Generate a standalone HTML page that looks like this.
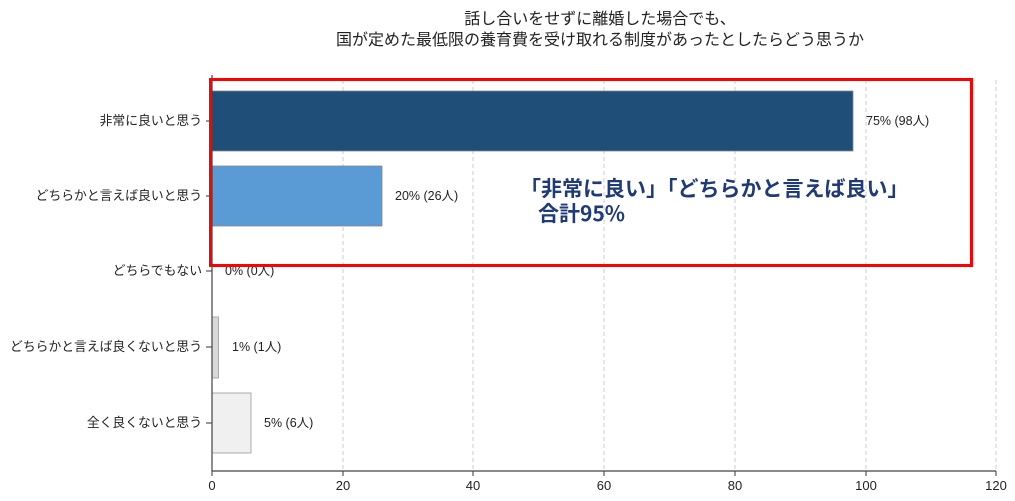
<!DOCTYPE html>
<html><head><meta charset="utf-8"><style>
html,body{margin:0;padding:0;background:#fff;}
svg{display:block;font-family:"Liberation Sans","Noto Sans CJK JP",sans-serif;}
</style></head><body>
<svg width="1015" height="501" viewBox="0 0 1015 501">
<text x="600" y="24" font-size="16" text-anchor="middle" fill="#222">話し合いをせずに離婚した場合でも、</text>
<text x="600" y="45" font-size="16" text-anchor="middle" fill="#222">国が定めた最低限の養育費を受け取れる制度があったとしたらどう思うか</text>
<g stroke="#ccc" stroke-dasharray="4,3" stroke-width="1">
<line x1="343" y1="80" x2="343" y2="471"/><line x1="473" y1="80" x2="473" y2="471"/>
<line x1="604" y1="80" x2="604" y2="471"/><line x1="735" y1="80" x2="735" y2="471"/>
<line x1="866" y1="80" x2="866" y2="471"/><line x1="996" y1="80" x2="996" y2="471"/>
</g>
<rect x="212" y="91" width="641" height="60" fill="#1f4e79" stroke="#888" stroke-width="0.8"/>
<rect x="212" y="166" width="170" height="60" fill="#5b9bd5" stroke="#888" stroke-width="0.8"/>
<rect x="212" y="317" width="6.5" height="61" fill="#d9d9d9" stroke="#999" stroke-width="0.8"/>
<rect x="212" y="393" width="39" height="60" fill="#f0f0f0" stroke="#999" stroke-width="0.8"/>
<g font-size="12.5" fill="#222">
<text x="866" y="125">75% (98人)</text>
<text x="395" y="200">20% (26人)</text>
<text x="225" y="275">0% (0人)</text>
<text x="232" y="351">1% (1人)</text>
<text x="264" y="427">5% (6人)</text>
</g>
<g font-size="12.8" fill="#222" text-anchor="end">
<text x="202" y="125">非常に良いと思う</text>
<text x="202" y="200">どちらかと言えば良いと思う</text>
<text x="202" y="275">どちらでもない</text>
<text x="202" y="351">どちらかと言えば良くないと思う</text>
<text x="202" y="427">全く良くないと思う</text>
</g>
<g stroke="#333" stroke-width="1">
<line x1="206" y1="121" x2="212" y2="121"/><line x1="206" y1="196" x2="212" y2="196"/>
<line x1="206" y1="271" x2="212" y2="271"/><line x1="206" y1="347" x2="212" y2="347"/>
<line x1="206" y1="423" x2="212" y2="423"/>
<line x1="212" y1="471" x2="212" y2="476"/><line x1="343" y1="471" x2="343" y2="476"/>
<line x1="473" y1="471" x2="473" y2="476"/><line x1="604" y1="471" x2="604" y2="476"/>
<line x1="735" y1="471" x2="735" y2="476"/><line x1="866" y1="471" x2="866" y2="476"/>
<line x1="996" y1="471" x2="996" y2="476"/>
</g>
<line x1="212" y1="75" x2="212" y2="471" stroke="#444" stroke-width="1.2"/>
<line x1="212" y1="471" x2="996" y2="471" stroke="#444" stroke-width="1.2"/>
<g font-size="13" fill="#222" text-anchor="middle">
<text x="212" y="490">0</text><text x="343" y="490">20</text><text x="473" y="490">40</text>
<text x="604" y="490">60</text><text x="735" y="490">80</text><text x="866" y="490">100</text>
<text x="996" y="490">120</text>
</g>
<rect x="210.5" y="79.5" width="761" height="186" fill="none" stroke="#f00" stroke-width="3"/>
<g font-family="'Noto Sans CJK JP',sans-serif" font-size="21" font-weight="bold" fill="#1f3a78">
<text x="520" y="196">「非常に良い」「どちらかと言えば良い」</text>
<text x="538" y="221">合計95%</text>
</g>
</svg>
</body></html>
